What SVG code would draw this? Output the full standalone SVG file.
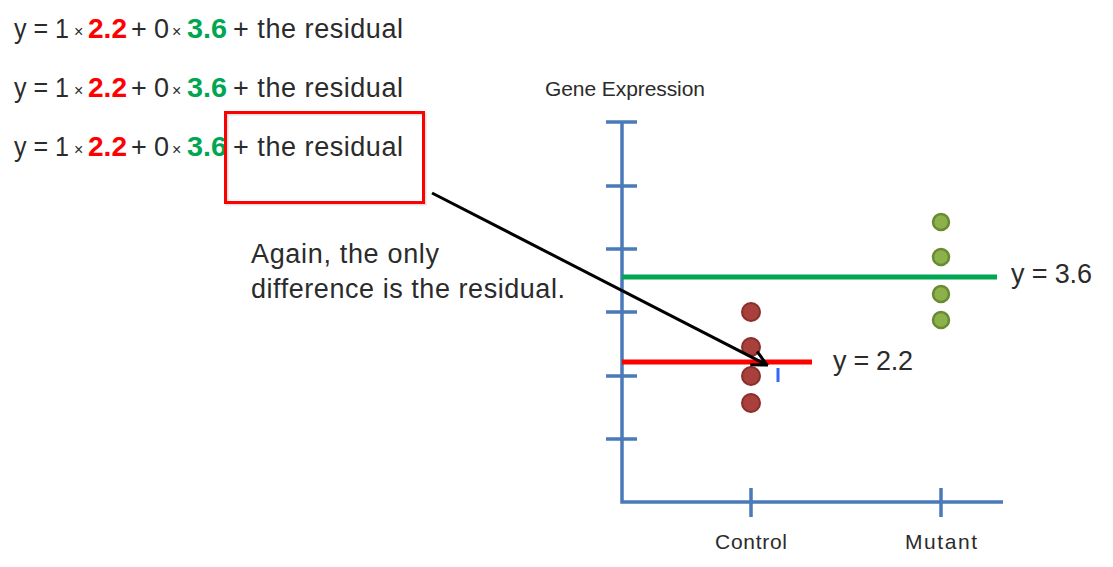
<svg xmlns="http://www.w3.org/2000/svg" width="1113" height="567" viewBox="0 0 1113 567">
<defs>
<style>
text{font-family:"Liberation Sans",Arial,sans-serif;fill:#2b2b2b}
.eq{font-size:27px}
.mul{font-size:16px}
.r{fill:#ff0000;font-weight:bold}
.g{fill:#00a651;font-weight:bold}
.lbl{font-size:21px}
.big{font-size:27px}
.axis{stroke:#4a7ab8;stroke-width:3.5;fill:none}
.rd{fill:#a8403c;stroke:#8a2e2b;stroke-width:2}
.gd{fill:#8cb04a;stroke:#6a8a32;stroke-width:2.5}
</style>
<marker id="ah" viewBox="0 0 12 12" refX="11" refY="6" markerWidth="6" markerHeight="6" orient="auto" markerUnits="strokeWidth">
<path d="M1,1 L11,6 L1,11" fill="none" stroke="#000" stroke-width="2"/>
</marker>
</defs>
<rect width="1113" height="567" fill="#fff"/>

<g id="equations">
<g id="eq1">
<text class="eq" x="14" y="38" textLength="55" lengthAdjust="spacingAndGlyphs">y = 1</text>
<text class="mul" x="74" y="37">×</text>
<text class="eq r" x="88" y="38" textLength="39" lengthAdjust="spacingAndGlyphs">2.2</text>
<text class="eq" x="131" y="38"><tspan>+</tspan><tspan x="154">0</tspan></text>
<text class="mul" x="172" y="37">×</text>
<text class="eq g" x="187" y="38" textLength="40" lengthAdjust="spacingAndGlyphs">3.6</text>
<text class="eq" x="233" y="38" textLength="170" lengthAdjust="spacing">+ the residual</text>
</g>
<g id="eq2">
<text class="eq" x="14" y="97" textLength="55" lengthAdjust="spacingAndGlyphs">y = 1</text>
<text class="mul" x="74" y="96">×</text>
<text class="eq r" x="88" y="97" textLength="39" lengthAdjust="spacingAndGlyphs">2.2</text>
<text class="eq" x="131" y="97"><tspan>+</tspan><tspan x="154">0</tspan></text>
<text class="mul" x="172" y="96">×</text>
<text class="eq g" x="187" y="97" textLength="40" lengthAdjust="spacingAndGlyphs">3.6</text>
<text class="eq" x="233" y="97" textLength="170" lengthAdjust="spacing">+ the residual</text>
</g>
<g id="eq3">
<text class="eq" x="14" y="156" textLength="55" lengthAdjust="spacingAndGlyphs">y = 1</text>
<text class="mul" x="74" y="155">×</text>
<text class="eq r" x="88" y="156" textLength="39" lengthAdjust="spacingAndGlyphs">2.2</text>
<text class="eq" x="131" y="156"><tspan>+</tspan><tspan x="154">0</tspan></text>
<text class="mul" x="172" y="155">×</text>
<text class="eq g" x="187" y="156" textLength="40" lengthAdjust="spacingAndGlyphs">3.6</text>
<text class="eq" x="233" y="156" textLength="170" lengthAdjust="spacing">+ the residual</text>
</g>
</g>

<g id="highlight-box">
<rect x="225.5" y="112.5" width="198" height="90" fill="none" stroke="#cccccc" stroke-width="3" transform="translate(1.5,1.5)" opacity="0.6"/>
<rect x="225.5" y="112.5" width="198" height="90" fill="none" stroke="#ff0000" stroke-width="3"/>
</g>

<g id="note">
<text class="big" x="251" y="263" textLength="188" lengthAdjust="spacing">Again, the only</text>
<text class="big" x="251" y="298" textLength="314" lengthAdjust="spacing">difference is the residual.</text>
</g>

<g id="chart">
<text class="lbl" x="545" y="96" textLength="160" lengthAdjust="spacing">Gene Expression</text>
<g id="axes">
<path class="axis" d="M622,122 V502 H1003"/>
<path class="axis" d="M606,122 H637 M606,186 H637 M606,249 H637 M606,312 H637 M606,376 H637 M606,439 H637"/>
<path class="axis" d="M751,488 V517 M941,488 V517"/>
</g>
<text class="lbl" x="751" y="549" text-anchor="middle" textLength="72" lengthAdjust="spacing">Control</text>
<text class="lbl" x="941" y="549" text-anchor="middle" textLength="72" lengthAdjust="spacing">Mutant</text>
<g id="mutant-fit">
<line x1="622" y1="277" x2="997" y2="277" stroke="#00a651" stroke-width="5"/>
<text class="big" x="1011" y="283" textLength="81" lengthAdjust="spacing">y = 3.6</text>
</g>
<g id="mutant-points">
<circle class="gd" cx="941" cy="222" r="8"/>
<circle class="gd" cx="941" cy="257" r="8"/>
<circle class="gd" cx="941" cy="294" r="8"/>
<circle class="gd" cx="941" cy="320" r="8"/>
</g>
<g id="control-points">
<circle class="rd" cx="751" cy="312" r="9"/>
<circle class="rd" cx="751" cy="347" r="9"/>
<circle class="rd" cx="751" cy="376" r="9"/>
<circle class="rd" cx="751" cy="403" r="9"/>
</g>
<g id="control-fit">
<line x1="622" y1="362" x2="812" y2="362" stroke="#ff0000" stroke-width="5"/>
<text class="big" x="833" y="370" textLength="80" lengthAdjust="spacing">y = 2.2</text>
</g>
<line id="residual-mark" x1="778" y1="368" x2="778" y2="382" stroke="#3366ff" stroke-width="3"/>
</g>

<g id="connectors">
<line x1="432" y1="193" x2="767" y2="365" stroke="#000" stroke-width="3" marker-end="url(#ah)"/>
</g>
</svg>
